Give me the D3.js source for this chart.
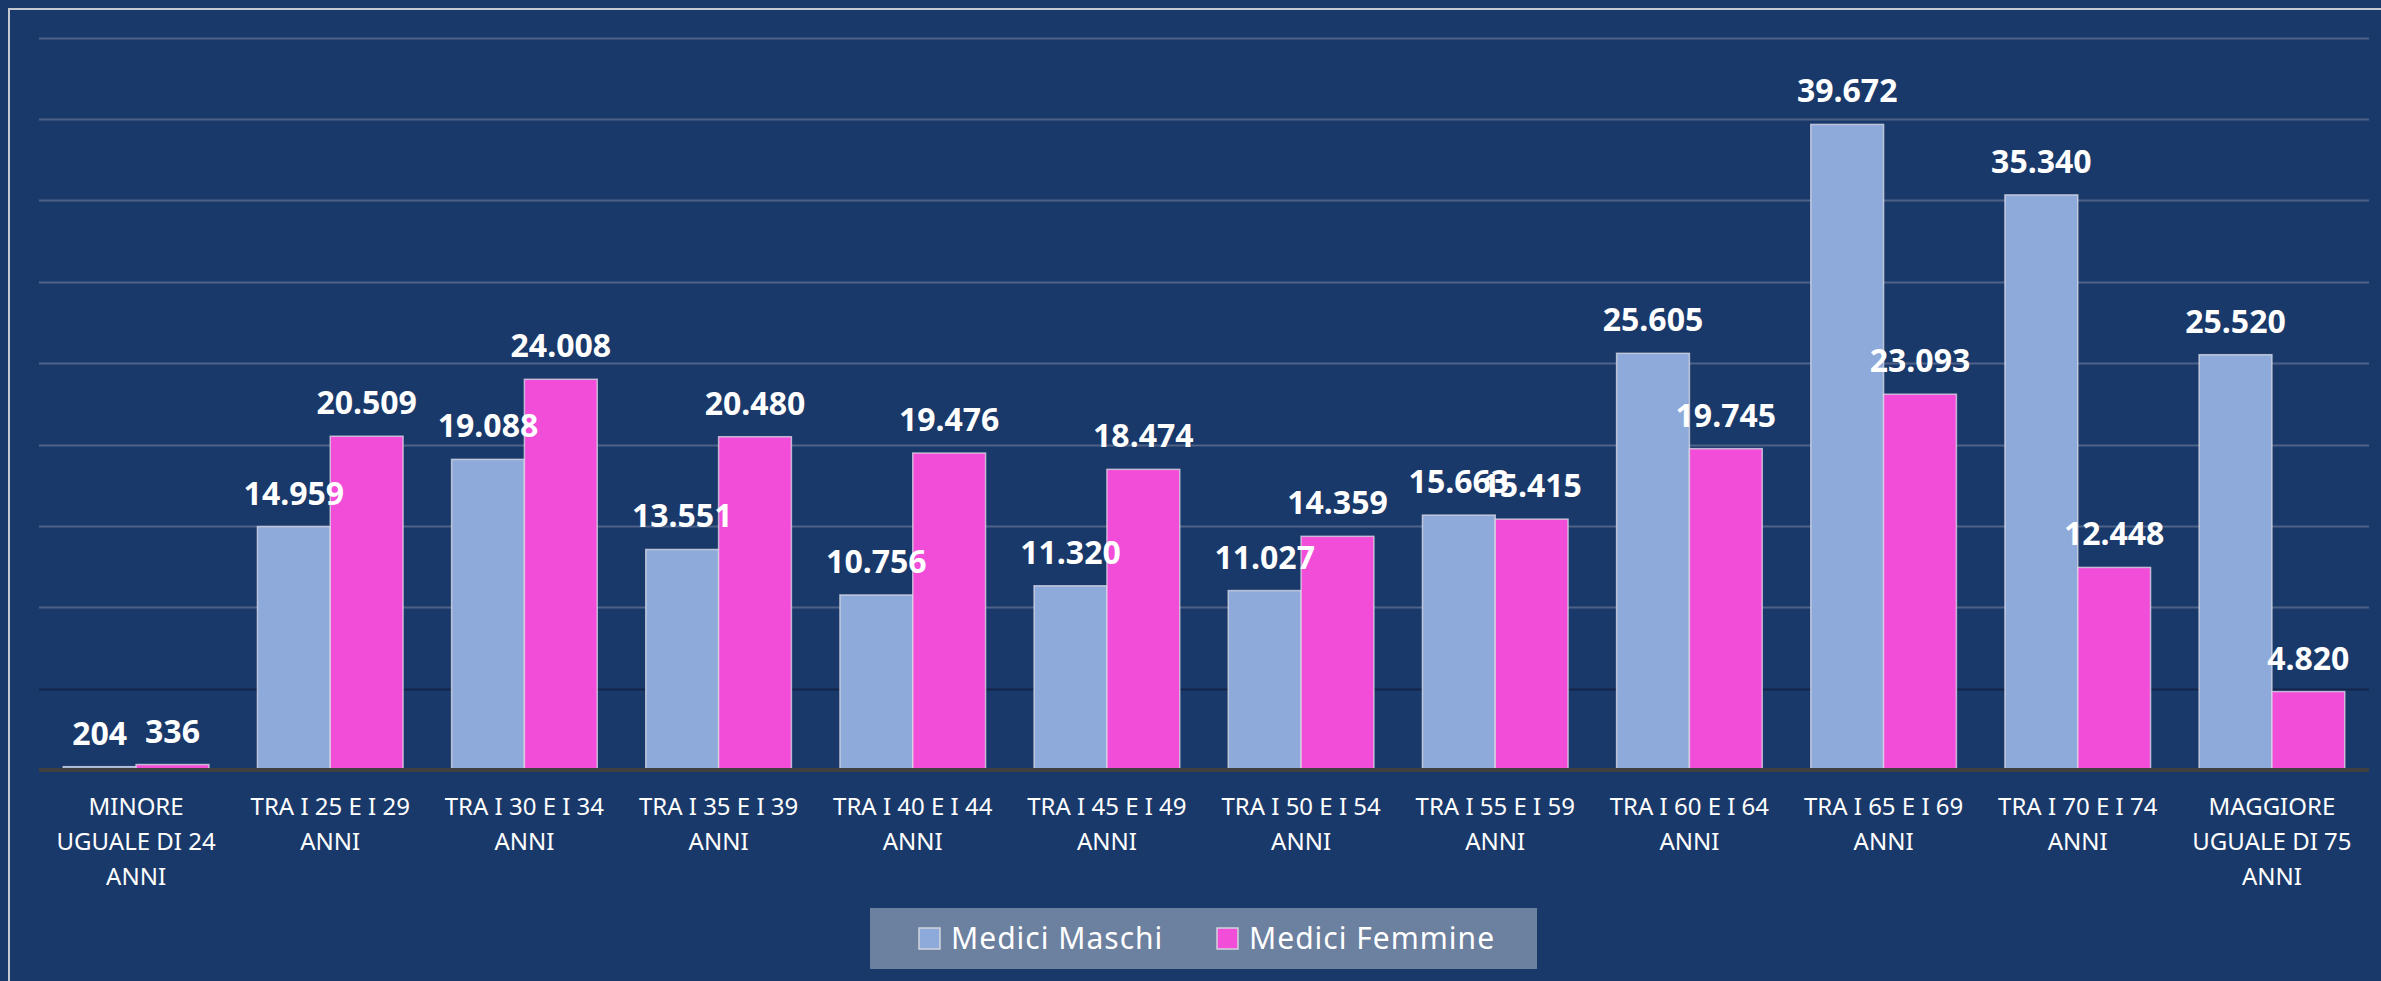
<!DOCTYPE html>
<html>
<head>
<meta charset="utf-8">
<script src="https://cdn.jsdelivr.net/npm/d3@7"></script>
<style>
  body { margin: 0; background: #1a396b; }
  svg { display: block; }
</style>
</head>
<body>
<svg id="chart" width="2381" height="981"></svg>
<script>
// categories (tick labels, "\n" = line break as in the original)
const categories = [
  "MINORE\nUGUALE DI 24\nANNI",
  "TRA I 25 E I 29\nANNI",
  "TRA I 30 E I 34\nANNI",
  "TRA I 35 E I 39\nANNI",
  "TRA I 40 E I 44\nANNI",
  "TRA I 45 E I 49\nANNI",
  "TRA I 50 E I 54\nANNI",
  "TRA I 55 E I 59\nANNI",
  "TRA I 60 E I 64\nANNI",
  "TRA I 65 E I 69\nANNI",
  "TRA I 70 E I 74\nANNI",
  "MAGGIORE\nUGUALE DI 75\nANNI"
];
const seriesNames = ["Medici Maschi", "Medici Femmine"];
const maschi = [204, 14959, 19088, 13551, 10756, 11320, 11027, 15663, 25605, 39672, 35340, 25520];
const femmine = [336, 20509, 24008, 20480, 19476, 18474, 14359, 15415, 19745, 23093, 12448, 4820];
const seriesColors = ["#8eaadb", "#f24dd8"];

const svg = d3.select("svg#chart");
const width = +svg.attr("width");
const height = +svg.attr("height");

const plot = { left: 39, right: 2369, top: 37.7, bottom: 770 };

const it = d3.formatLocale({ decimal: ",", thousands: ".", grouping: [3], currency: ["€", ""] });
const fmt = it.format(",d");

const rows = categories.map((c, i) => ({ cat: c, values: [maschi[i], femmine[i]] }));

const x0 = d3.scaleBand()
  .domain(categories)
  .range([plot.left, plot.right])
  .paddingInner(0.25)
  .paddingOuter(0.125);
const x1 = d3.scaleBand()
  .domain(d3.range(seriesNames.length))
  .range([0, x0.bandwidth()]);
const y = d3.scaleLinear().domain([0, 45000]).range([plot.bottom, plot.top]);

// outer frame (cut off on the right/bottom like the screenshot)
svg.append("rect")
  .attr("x", 9).attr("y", 9)
  .attr("width", 2420).attr("height", 1020)
  .attr("fill", "none")
  .attr("stroke", "#c4c8cf")
  .attr("stroke-width", 2);

// gridlines
svg.append("g")
  .selectAll("line")
  .data(y.ticks(9).filter(d => d > 0))
  .join("line")
  .attr("x1", plot.left)
  .attr("x2", plot.right)
  .attr("y1", d => Math.round(y(d)) + 0.5)
  .attr("y2", d => Math.round(y(d)) + 0.5)
  .attr("stroke", d => d === 5000 ? "#14254a" : "#4e6287")
  .attr("stroke-width", 2);

// bars
const groups = svg.append("g")
  .selectAll("g")
  .data(rows)
  .join("g")
  .attr("transform", d => `translate(${x0(d.cat)},0)`);

groups.selectAll("rect")
  .data(d => d.values.map((v, i) => ({ v, i })))
  .join("rect")
  .attr("x", d => x1(d.i))
  .attr("y", d => y(d.v))
  .attr("width", x1.bandwidth())
  .attr("height", d => y(0) - y(d.v))
  .attr("fill", d => seriesColors[d.i])
  .attr("stroke", "#dcdce6")
  .attr("stroke-opacity", 0.75)
  .attr("stroke-width", 1.5);

// value labels
groups.selectAll("text")
  .data(d => d.values.map((v, i) => ({ v, i })))
  .join("text")
  .attr("x", d => x1(d.i) + x1.bandwidth() / 2)
  .attr("y", d => y(d.v) - 22)
  .attr("text-anchor", "middle")
  .attr("fill", "white")
  .style("font-family", "'Noto Sans', sans-serif")
  .style("font-weight", "bold")
  .style("font-size", "32px")
  .text(d => fmt(d.v));

// baseline
svg.append("line")
  .attr("x1", plot.left).attr("x2", plot.right)
  .attr("y1", plot.bottom).attr("y2", plot.bottom)
  .attr("stroke", "#404040")
  .attr("stroke-width", 4);

// category labels
const xAxis = svg.append("g");
categories.forEach(c => {
  const t = xAxis.append("text")
    .attr("text-anchor", "middle")
    .attr("fill", "white")
    .style("font-family", "'Noto Sans', sans-serif")
    .style("font-size", "24px");
  c.split("\n").forEach((line, k) => {
    t.append("tspan")
      .attr("x", x0(c) + x0.bandwidth() / 2)
      .attr("y", 815 + k * 35)
      .text(line);
  });
});

// legend
const legend = svg.append("g");
legend.append("rect")
  .attr("x", 870).attr("y", 908)
  .attr("width", 667).attr("height", 61)
  .attr("fill", "#6c809f");
const legendX = [919, 1217];
seriesNames.forEach((name, i) => {
  legend.append("rect")
    .attr("x", legendX[i]).attr("y", 928)
    .attr("width", 21).attr("height", 21)
    .attr("fill", seriesColors[i])
    .attr("stroke", "#d0d4dc")
    .attr("stroke-width", 1.5);
  legend.append("text")
    .attr("x", legendX[i] + 32)
    .attr("y", 949)
    .attr("fill", "white")
    .style("font-family", "'Noto Sans', sans-serif")
    .style("font-size", "30px")
    .style("letter-spacing", "1px")
    .text(name);
});
</script>
</body>
</html>
